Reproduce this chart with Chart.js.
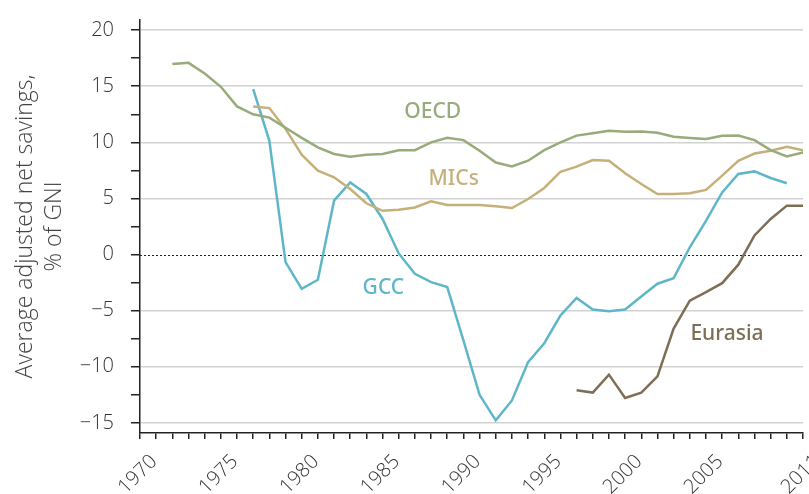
<!DOCTYPE html>
<html>
<head>
<meta charset="utf-8">
<title>Average adjusted net savings</title>
<script src="https://cdn.jsdelivr.net/npm/chart.js@4.4.1/dist/chart.umd.min.js"></script>
<style>
    html, body { margin: 0; padding: 0; background: #fff; }
    #wrap { width: 809px; height: 494px; position: relative; }
</style>
</head>
<body>
<div id="wrap"><canvas id="savingsChart"></canvas></div>
<script>
// Series data (% of GNI)
const oecdYears = [1972, 1973, 1974, 1975, 1976, 1977, 1978, 1979, 1980, 1981, 1982, 1983, 1984, 1985, 1986, 1987, 1988, 1989, 1990, 1991,
    1992, 1993, 1994, 1995, 1996, 1997, 1998, 1999, 2000, 2001, 2002, 2003, 2004, 2005, 2006, 2007, 2008, 2009, 2010, 2011];
const oecdValues = [16.97, 17.08, 16.13, 14.95, 13.2, 12.5, 12.2, 11.3, 10.4, 9.55, 8.96, 8.72, 8.9, 8.96, 9.3, 9.3, 10.0, 10.4, 10.2, 9.25,
    8.2, 7.86, 8.36, 9.3, 10.0, 10.6, 10.8, 11.03, 10.94, 10.97, 10.85, 10.5, 10.38, 10.29, 10.59, 10.61, 10.2, 9.3, 8.75, 9.1];

const micsYears = [1977, 1978, 1979, 1980, 1981, 1982, 1983, 1984, 1985, 1986, 1987, 1988, 1989, 1990, 1991, 1992, 1993, 1994,
    1995, 1996, 1997, 1998, 1999, 2000, 2001, 2002, 2003, 2004, 2005, 2006, 2007, 2008, 2009, 2010, 2011];
const micsValues = [13.2, 13.05, 11.2, 8.9, 7.47, 6.88, 5.84, 4.57, 3.9, 4.0, 4.2, 4.75, 4.42, 4.42, 4.42, 4.3, 4.15, 4.95,
    5.93, 7.38, 7.83, 8.42, 8.36, 7.24, 6.29, 5.4, 5.4, 5.46, 5.76, 7.03, 8.36, 9.0, 9.25, 9.6, 9.3];

const gccYears = [1977, 1978, 1979, 1980, 1981, 1982, 1983, 1984, 1985, 1986, 1987, 1988, 1989, 1990, 1991, 1992, 1993,
    1994, 1995, 1996, 1997, 1998, 1999, 2000, 2001, 2002, 2003, 2004, 2005, 2006, 2007, 2008, 2009, 2010];
const gccValues = [14.74, 10.14, -0.68, -3.05, -2.25, 4.8, 6.43, 5.4, 3.17, 0.1, -1.72, -2.46, -2.9, -7.65, -12.5, -14.77, -13.0,
    -9.58, -7.9, -5.43, -3.86, -4.9, -5.04, -4.9, -3.74, -2.6, -2.1, 0.65, 3.0, 5.54, 7.18, 7.41, 6.82, 6.35];

const eurasiaYears = [1997, 1998, 1999, 2000, 2001, 2002, 2003, 2004, 2005, 2006, 2007, 2008, 2009, 2010, 2011];
const eurasiaValues = [-12.1, -12.3, -10.7, -12.78, -12.3, -10.85, -6.6, -4.1, -3.35, -2.55, -0.9, 1.7, 3.17, 4.36, 4.36];

// Series names and where their labels sit (year, value)
const seriesNames = ['OECD', 'MICs', 'GCC', 'Eurasia'];
const labelYears = [1988.1, 1989.4, 1985.05, 2006.3];
const labelValues = [12.7, 6.7, -3.0, -7.1];
const seriesColors = ['#97ab7b', '#c6b07a', '#5fb6c9', '#7d6e55'];

const xLabelYears = [1970, 1975, 1980, 1985, 1990, 1995, 2000, 2005, 2011];

function toPoints(years, values) {
    return years.map((y, i) => ({ x: y, y: values[i] }));
}

// dotted zero line + series names
const annotations = {
    id: 'annotations',
    beforeDatasetsDraw(chart) {
        const { ctx, chartArea, scales } = chart;
        const y0 = Math.round(scales.y.getPixelForValue(0)) + 0.5;
        ctx.save();
        ctx.strokeStyle = '#222';
        ctx.lineWidth = 1;
        ctx.setLineDash([2, 2]);
        ctx.beginPath();
        ctx.moveTo(chartArea.left, y0);
        ctx.lineTo(chartArea.right, y0);
        ctx.stroke();
        ctx.restore();
    },
    afterDatasetsDraw(chart) {
        const { ctx, scales } = chart;
        ctx.save();
        ctx.font = '500 21px "Liberation Sans Narrow", "Noto Sans", sans-serif';
        ctx.textAlign = 'center';
        ctx.textBaseline = 'middle';
        seriesNames.forEach((name, i) => {
            ctx.fillStyle = seriesColors[i];
            ctx.fillText(name, scales.x.getPixelForValue(labelYears[i]), scales.y.getPixelForValue(labelValues[i]));
        });
        ctx.restore();
    }
};

const allYears = [oecdYears, micsYears, gccYears, eurasiaYears];
const allValues = [oecdValues, micsValues, gccValues, eurasiaValues];

new Chart(document.getElementById('savingsChart').getContext('2d'), {
    type: 'line',
    data: {
        datasets: seriesNames.map((name, i) => ({
            label: name,
            data: toPoints(allYears[i], allValues[i]),
            borderColor: seriesColors[i],
            borderWidth: 2.5,
            pointRadius: 0,
            tension: 0,
            fill: false
        }))
    },
    options: {
        responsive: true,
        maintainAspectRatio: false,
        animation: false,
        layout: { padding: { top: 20, right: 6, left: 0, bottom: 0 } },
        plugins: {
            legend: { display: false },
            tooltip: { enabled: false }
        },
        scales: {
            x: {
                type: 'linear',
                min: 1970,
                max: 2011,
                afterFit(scale) {
                    scale.height = 61;
                    scale.paddingLeft = 0;
                    scale.paddingRight = 0;
                },
                border: { display: true, color: '#222', width: 1.5 },
                grid: {
                    drawOnChartArea: false,
                    drawTicks: true,
                    tickLength: 6,
                    tickColor: '#222',
                    lineWidth: 1.5
                },
                ticks: {
                    stepSize: 1,
                    autoSkip: false,
                    minRotation: 45,
                    maxRotation: 45,
                    padding: 11,
                    labelOffset: 14,
                    color: '#333',
                    font: { family: '"Open Sans", "Noto Sans", sans-serif', size: 20, weight: 300 },
                    callback: (v) => xLabelYears.includes(v) ? String(v) : ''
                }
            },
            y: {
                min: -15.9,
                max: 20.9,
                afterFit(scale) {
                    scale.width = 140;
                    scale.paddingTop = 0;
                    scale.paddingBottom = 0;
                },
                border: { display: true, color: '#222', width: 1.5 },
                grid: {
                    drawTicks: true,
                    tickLength: 9,
                    tickColor: '#222',
                    lineWidth: 1.5,
                    color: (ctx) => (ctx.tick && ctx.tick.value % 5 === 0 && ctx.tick.value !== 0) ? '#d2d2d2' : 'rgba(0,0,0,0)'
                },
                ticks: {
                    stepSize: 2.5,
                    includeBounds: false,
                    autoSkip: false,
                    padding: 17,
                    color: '#333',
                    font: { family: '"Open Sans", "Noto Sans", sans-serif', size: 20, weight: 300 },
                    callback: (v) => v % 5 === 0 ? (v < 0 ? '\u2212' + Math.abs(v) : String(v)) : ''
                },
                title: {
                    display: true,
                    text: ['Average adjusted net savings,', '% of GNI'],
                    color: '#444',
                    font: { family: '"Open Sans", "Noto Sans", sans-serif', size: 23, weight: 300, lineHeight: 1.26 },
                    padding: { top: 11, bottom: 0 }
                }
            }
        }
    },
    plugins: [annotations]
});
</script>
</body>
</html>
